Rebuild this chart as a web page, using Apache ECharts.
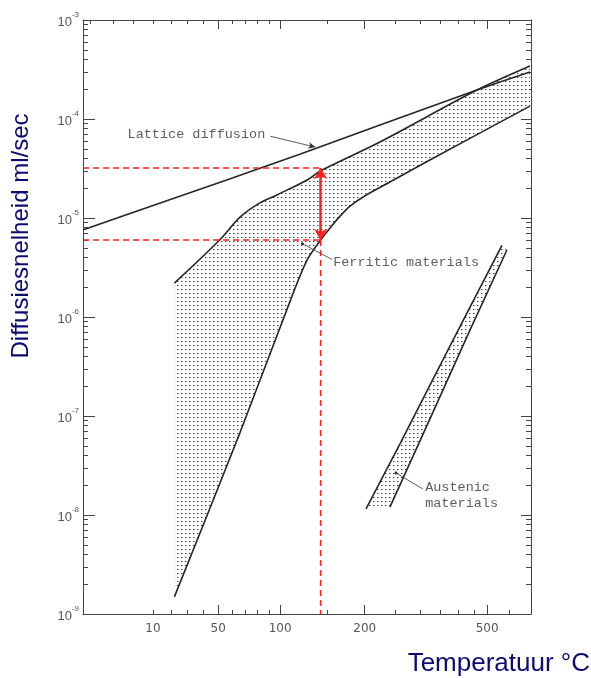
<!DOCTYPE html>
<html>
<head>
<meta charset="utf-8">
<script src="https://cdn.jsdelivr.net/npm/echarts@6/dist/echarts.min.js"></script>
<style>
  html, body { margin: 0; padding: 0; background: #fff; }
  #chart { width: 591px; height: 678px; }
</style>
</head>
<body>
<div id="chart"></div>
<script>
// temperatures in °C, diffusion in ml/sec
const latticeT = [-23, 14, 56, 120, 224, 461, 720];
const latticeD = [7.6e-6, 1.42e-5, 2.42e-5, 4.43e-5, 8.7e-5, 1.96e-4, 2.99e-4];

const ferUpperT = [22, 51, 66, 82, 97, 127, 142, 224, 461, 720];
const ferUpperD = [2.2e-6, 6.0e-6, 1.02e-5, 1.42e-5, 1.71e-5, 2.42e-5, 3.0e-5, 5.86e-5, 1.96e-4, 3.43e-4];

const ferLowerT = [22, 66, 110, 127, 142, 153, 166, 179, 200, 241, 323, 720];
const ferLowerD = [1.49e-9, 6.8e-8, 1.49e-6, 3.77e-6, 6.0e-6, 7.9e-6, 1.05e-5, 1.32e-5, 1.67e-5, 2.31e-5, 3.85e-5, 1.35e-4];

const ausLeftT = [202, 260, 331, 427, 564];
const ausLeftD = [1.15e-8, 5.3e-8, 2.37e-7, 1.1e-6, 5.3e-6];
const ausRightT = [241, 323, 437, 588];
const ausRightD = [1.2e-8, 9.3e-8, 7.4e-7, 4.75e-6];

// red reading lines
const refT = 142;
const refHigh = 3.2e-5;
const refLow = 6.0e-6;

// tick labels / ticks (°C)
const labelTemps = [10, 50, 100, 200, 500];
const majorTemps = [50, 100, 200, 500];
const minorTemps = [10, 20, 30, 40, 60, 70, 80, 90, 150, 250, 300, 350, 400, 450, 600];
const topMinorTemps = [-20, -10, 0].concat(minorTemps);
const decades = [-9, -8, -7, -6, -5, -4, -3];

// annotations
const noteText = ['Lattice diffusion', 'Ferritic materials', 'Austenic\nmaterials'];
const noteT = [-3, 157, 312];
const noteD = [7.05e-5, 3.6e-6, 1.56e-8];
const leaderFromT = [91, 156, 307];
const leaderFromD = [6.7e-5, 3.8e-6, 1.83e-8];
const leaderToT = [136, 122, 252];
const leaderToD = [5.2e-5, 5.5e-6, 2.66e-8];

const toX = t => 1000 / (t + 273.15);
const pts = (ts, ds) => ts.map((t, i) => [toX(t), ds[i]]);

const minorY = [];
decades.slice(0, -1).forEach(n => {
  for (let k = 2; k <= 9; k++) minorY.push(n + Math.log10(k));
});

// stipple fill
const dotCanvas = document.createElement('canvas');
dotCanvas.width = 4;
dotCanvas.height = 4;
const dctx = dotCanvas.getContext('2d');
dctx.fillStyle = '#ffffff';
dctx.fillRect(0, 0, 4, 4);
dctx.fillStyle = '#3a3a3a';
dctx.fillRect(1, 1, 1, 1);
dctx.fillStyle = '#b0b0b0';
dctx.fillRect(2, 1, 1, 1);
const dots = { image: dotCanvas, repeat: 'repeat' };

const ink = '#262626';
const axisInk = '#444';
const red = '#ff1f1f';

function band(upper, lower) {
  const poly = upper.concat(lower.slice().reverse());
  return {
    type: 'custom',
    silent: true,
    z: 1,
    data: [poly[0]],
    renderItem: (params, api) => ({
      type: 'polygon',
      shape: { points: poly.map(p => api.coord(p)) },
      style: { fill: dots, stroke: null }
    })
  };
}

function curve(data, smooth) {
  return {
    type: 'line', data, symbol: 'none', silent: true, z: 3, smooth: smooth || false,
    lineStyle: { color: ink, width: 1.6 }
  };
}

function dashed(data) {
  return {
    type: 'line', data, symbol: 'none', silent: true, z: 4,
    lineStyle: { color: red, width: 1.5, type: [6, 4] }
  };
}

const xBase = {
  type: 'value', min: 1, max: 4, inverse: true,
  splitLine: { show: false }
};
const yBase = {
  type: 'value', min: -9, max: -3, interval: 1,
  splitLine: { show: false }
};
const lineOn = { show: true, onZero: false, lineStyle: { color: axisInk, width: 1 } };
const lineOff = { show: false };
const noLabel = { show: false };

const option = {
  animation: false,
  backgroundColor: '#fff',
  grid: { left: 83, right: 60, top: 20, bottom: 64, outerBoundsMode: 'none' },
  xAxis: [
    {
      ...xBase, position: 'bottom', axisLine: lineOn,
      axisTick: { show: true, inside: true, length: 9, customValues: majorTemps.map(toX), lineStyle: { color: axisInk } },
      axisLabel: {
        show: true, customValues: labelTemps.map(toX), margin: 9,
        formatter: v => String(Math.round(1000 / v - 273.15)),
        color: '#555', fontSize: 12, fontFamily: 'DejaVu Sans'
      }
    },
    {
      ...xBase, position: 'bottom', axisLine: lineOff, axisLabel: noLabel,
      axisTick: { show: true, inside: true, length: 4, customValues: minorTemps.map(toX), lineStyle: { color: axisInk } }
    },
    {
      ...xBase, position: 'top', axisLine: lineOn, axisLabel: noLabel,
      axisTick: { show: true, inside: true, length: 9, customValues: majorTemps.map(toX), lineStyle: { color: axisInk } }
    },
    {
      ...xBase, position: 'top', axisLine: lineOff, axisLabel: noLabel,
      axisTick: { show: true, inside: true, length: 4, customValues: topMinorTemps.map(toX), lineStyle: { color: axisInk } }
    }
  ],
  yAxis: [
    { type: 'log', logBase: 10, min: 1e-9, max: 1e-3, show: false },
    {
      ...yBase, position: 'left', axisLine: lineOn,
      axisTick: { show: true, inside: true, length: 12, lineStyle: { color: axisInk } },
      axisLabel: {
        show: true, margin: 4,
        formatter: v => '{b|10}{s|' + v + '}',
        rich: {
          b: { fontSize: 13, color: '#555', fontFamily: 'Liberation Sans', verticalAlign: 'bottom', lineHeight: 18 },
          s: { fontSize: 8, color: '#555', fontFamily: 'Liberation Sans', verticalAlign: 'top', lineHeight: 18 }
        }
      }
    },
    {
      ...yBase, position: 'left', axisLine: lineOff, axisLabel: noLabel,
      axisTick: { show: true, inside: true, length: 5, customValues: minorY, lineStyle: { color: axisInk } }
    },
    {
      ...yBase, position: 'right', axisLine: lineOn, axisLabel: noLabel,
      axisTick: { show: true, inside: true, length: 10, lineStyle: { color: axisInk } }
    },
    {
      ...yBase, position: 'right', axisLine: lineOff, axisLabel: noLabel,
      axisTick: { show: true, inside: true, length: 5, customValues: minorY, lineStyle: { color: axisInk } }
    }
  ],
  graphic: [
    {
      type: 'text', x: 21, y: 236, rotation: Math.PI / 2,
      style: {
        text: 'Diffusiesnelheid ml/sec', fill: '#0b0b70',
        font: '24px "Liberation Sans", Arial, sans-serif',
        align: 'center', verticalAlign: 'middle'
      }
    },
    {
      type: 'text', x: 590, y: 664,
      style: {
        text: 'Temperatuur °C', fill: '#0b0b70',
        font: '26px "Liberation Sans", Arial, sans-serif',
        align: 'right', verticalAlign: 'middle'
      }
    }
  ],
  series: [
    band(pts(ferUpperT, ferUpperD), pts(ferLowerT, ferLowerD)),
    band(pts(ausLeftT, ausLeftD), pts(ausRightT, ausRightD)),
    curve(pts(ferUpperT, ferUpperD), 0.3),
    curve(pts(ferLowerT, ferLowerD), 0.3),
    curve(pts(ausLeftT, ausLeftD)),
    curve(pts(ausRightT, ausRightD)),
    curve(pts(latticeT, latticeD), 0.2),
    dashed([[4, refHigh], [toX(refT), refHigh]]),
    dashed([[4, refLow], [toX(refT), refLow]]),
    dashed([[toX(refT), refLow], [toX(refT), 1e-9]]),
    {
      type: 'line', data: [], silent: true, z: 6,
      markLine: {
        silent: true, animation: false,
        symbol: ['arrow', 'arrow'], symbolSize: [10, 11],
        label: { show: false },
        lineStyle: { color: red, width: 2.5, type: 'solid' },
        data: [[{ coord: [toX(refT), refHigh] }, { coord: [toX(refT), refLow] }]]
      }
    },
    {
      type: 'scatter', symbolSize: 0, silent: true, z: 5,
      data: noteText.map((t, i) => ({ value: [toX(noteT[i]), noteD[i]], text: t })),
      label: {
        show: true, position: 'right', distance: 0,
        formatter: p => p.data.text,
        fontFamily: '"Liberation Mono", "DejaVu Sans Mono", monospace',
        fontSize: 13.5, lineHeight: 16, color: '#333'
      },
      markLine: {
        silent: true, animation: false,
        label: { show: false },
        lineStyle: { color: '#333', width: 0.8, type: 'solid' },
        data: noteText.map((t, i) => [
          { coord: [toX(leaderFromT[i]), leaderFromD[i]], symbol: 'none' },
          {
            coord: [toX(leaderToT[i]), leaderToD[i]],
            symbol: i === 0 ? 'arrow' : 'circle',
            symbolSize: i === 0 ? [5, 7] : 3
          }
        ])
      }
    }
  ]
};

const chart = echarts.init(document.getElementById('chart'));
chart.setOption(option);
</script>
</body>
</html>
